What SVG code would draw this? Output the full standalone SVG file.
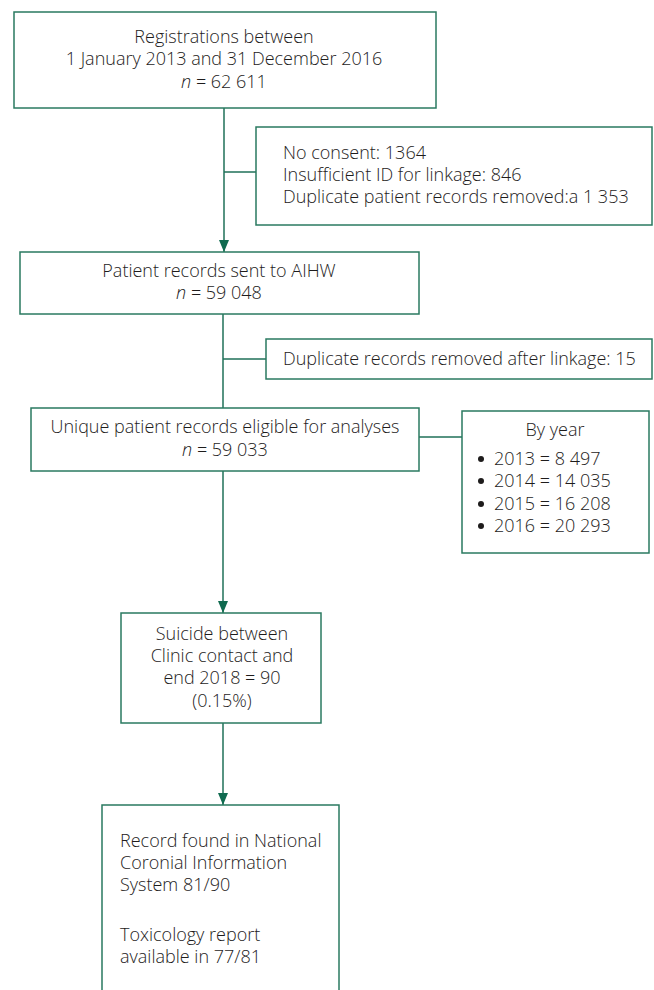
<svg xmlns="http://www.w3.org/2000/svg" width="654" height="990" viewBox="0 0 654 990">
<style>
.box{fill:#fff;stroke:#2a7a60;stroke-width:1.5}
.ln{fill:none;stroke:#1f7158;stroke-width:1.5}
text{font-family:"Open Sans","Liberation Sans",sans-serif;font-size:18px;font-weight:300;fill:#1e1c1c}
.c{text-anchor:middle}
.i{font-style:italic}
</style>
<defs>
<marker id="ah" markerWidth="12" markerHeight="10" refX="12" refY="5" orient="auto" markerUnits="userSpaceOnUse">
<path d="M0,0 L12,5 L0,10 Z" fill="#0f6a4f"/>
</marker>
</defs>
<rect width="654" height="990" fill="#fff"/>
<g id="connectors">
<path class="ln" d="M224,108 V252" marker-end="url(#ah)"/>
<path class="ln" d="M224,172 H256"/>
<path class="ln" d="M223,314 V408"/>
<path class="ln" d="M223,359 H266"/>
<path class="ln" d="M419,437 H462"/>
<path class="ln" d="M223,471 V613" marker-end="url(#ah)"/>
<path class="ln" d="M223,723 V805" marker-end="url(#ah)"/>
</g>
<g id="registrations">
<rect class="box" x="14" y="12" width="422" height="96"/>
<text class="c" x="224" y="43">Registrations between</text>
<text class="c" x="224" y="65">1 January 2013 and 31 December 2016</text>
<text class="c" x="224" y="88"><tspan class="i">n</tspan> = 62 611</text>
</g>
<g id="exclusions">
<rect class="box" x="256" y="127" width="396" height="98"/>
<text x="283" y="159">No consent: 1364</text>
<text x="283" y="181">Insufficient ID for linkage: 846</text>
<text x="283" y="203">Duplicate patient records removed:a 1 353</text>
</g>
<g id="sent-aihw">
<rect class="box" x="20" y="252" width="399" height="62"/>
<text class="c" x="219" y="277">Patient records sent to AIHW</text>
<text class="c" x="219" y="299"><tspan class="i">n</tspan> = 59 048</text>
</g>
<g id="duplicates">
<rect class="box" x="266" y="339" width="386" height="40"/>
<text x="283" y="365">Duplicate records removed after linkage: 15</text>
</g>
<g id="unique">
<rect class="box" x="31" y="408" width="388" height="63"/>
<text class="c" x="225" y="433">Unique patient records eligible for analyses</text>
<text class="c" x="225" y="456"><tspan class="i">n</tspan> = 59 033</text>
</g>
<g id="by-year">
<rect class="box" x="462" y="411" width="187" height="142"/>
<text class="c" x="555" y="436">By year</text>
<circle cx="481" cy="459" r="3" fill="#1e1c1c"/>
<circle cx="481" cy="481" r="3" fill="#1e1c1c"/>
<circle cx="481" cy="504" r="3" fill="#1e1c1c"/>
<circle cx="481" cy="526" r="3" fill="#1e1c1c"/>
<text x="494" y="465">2013 = 8 497</text>
<text x="494" y="487">2014 = 14 035</text>
<text x="494" y="510">2015 = 16 208</text>
<text x="494" y="532">2016 = 20 293</text>
</g>
<g id="suicide">
<rect class="box" x="121" y="613" width="200" height="110"/>
<text class="c" x="222" y="640">Suicide between</text>
<text class="c" x="222" y="662">Clinic contact and</text>
<text class="c" x="222" y="684">end 2018 = 90</text>
<text class="c" x="222" y="707">(0.15%)</text>
</g>
<g id="coronial">
<rect class="box" x="102" y="805" width="237" height="200"/>
<text x="120" y="847">Record found in National</text>
<text x="120" y="869">Coronial Information</text>
<text x="120" y="891">System 81/90</text>
<text x="120" y="941">Toxicology report</text>
<text x="120" y="963">available in 77/81</text>
</g>
</svg>
